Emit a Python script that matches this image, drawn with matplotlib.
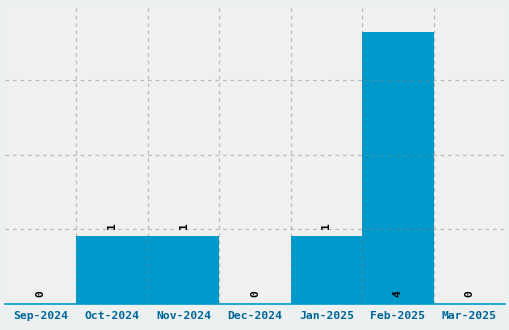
import matplotlib.pyplot as plt

months = ['Sep-2024', 'Oct-2024', 'Nov-2024', 'Dec-2024', 'Jan-2025', 'Feb-2025', 'Mar-2025']
counts = [0, 1, 1, 0, 1, 4, 0]

fig = plt.figure(figsize=(5.1, 3.3), dpi=100, facecolor='#ecf0f1')
ax = fig.add_axes([5 / 510, 26 / 330, 500 / 510, 299 / 330])
ax.set_facecolor('#f0f0f0')

x = list(range(len(months)))
ax.bar(x, counts, width=1.0, color='#0099cc', zorder=2)

ax.set_xlim(-0.5, len(months) - 0.5)
ax.set_ylim(0, 4.4)

# grid at category boundaries and at even steps on y
ax.set_xticks([i + 0.5 for i in x[:-1]], minor=True)
ax.set_yticks([1.1, 2.2, 3.3])
ax.grid(True, which='minor', axis='x', color='#888888', linestyle=(0, (3, 3)), linewidth=0.9, alpha=0.5, zorder=3)
ax.grid(True, which='major', axis='y', color='#888888', linestyle=(0, (3, 3)), linewidth=0.9, alpha=0.5, zorder=3)
ax.set_axisbelow(False)

ax.set_xticks(x)
ax.set_xticklabels(months, fontfamily='DejaVu Sans Mono', fontweight='bold', fontsize=8.2, color='#006699')
ax.tick_params(axis='x', which='both', length=0, pad=5)
ax.tick_params(axis='y', which='both', length=0, labelleft=False)

for s in ['top', 'left', 'right']:
    ax.spines[s].set_visible(False)
ax.spines['bottom'].set_color('#0099cc')
ax.spines['bottom'].set_linewidth(1.2)
ax.spines['bottom'].set_zorder(4)

# value labels, rotated (the tallest one sits at the foot of its bar)
for i, c in enumerate(counts):
    y = 0.1 if c == max(counts) else c + 0.1
    ax.text(i, y, str(c), rotation=90, ha='center', va='bottom', fontfamily='DejaVu Sans Mono',
            fontweight='bold', fontsize=8.2, color='black', zorder=5)

fig.savefig('out.png', dpi=100, facecolor=fig.get_facecolor())
